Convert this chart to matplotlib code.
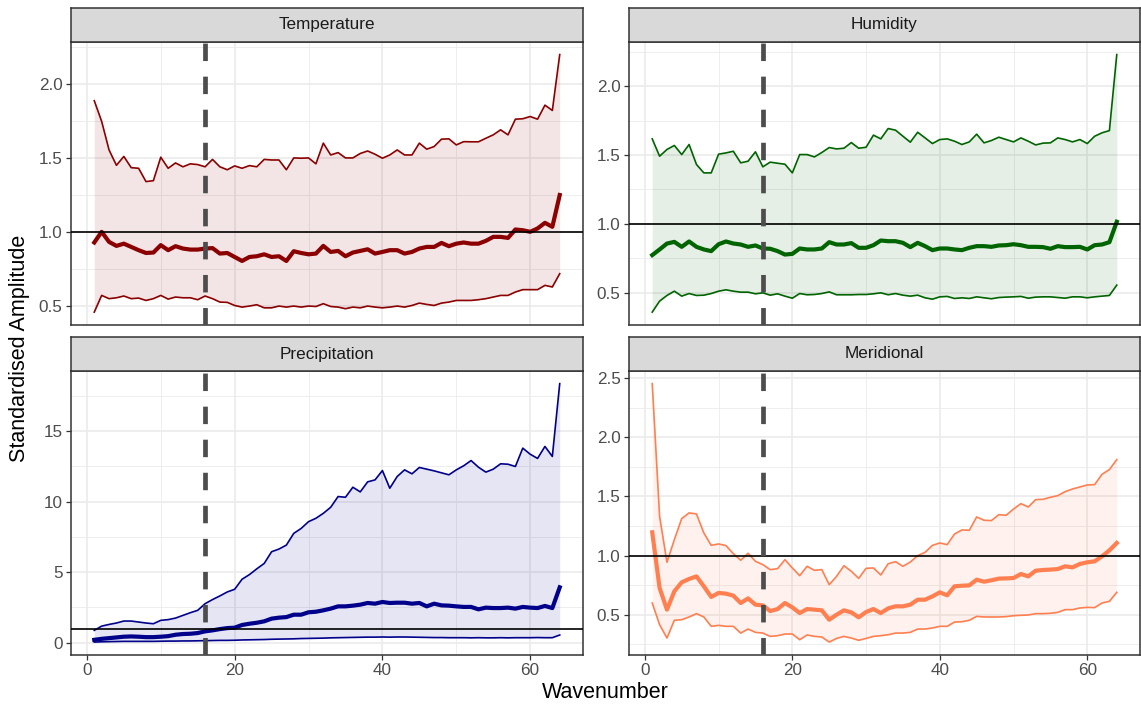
import numpy as np
import matplotlib.pyplot as plt
from matplotlib.ticker import MultipleLocator, FormatStrFormatter

plt.rcParams['font.family'] = ['Liberation Sans', 'DejaVu Sans']

# Wavenumbers 1..64
wavenumber = np.arange(1, 65)

# Temperature: upper band, median, lower band
temp_upper = [1.887, 1.747, 1.554, 1.45, 1.51, 1.434, 1.43, 1.34, 1.346, 1.505,
              1.43, 1.466, 1.44, 1.46, 1.455, 1.44, 1.49, 1.44, 1.42, 1.446,
              1.43, 1.448, 1.44, 1.49, 1.486, 1.486, 1.42, 1.50, 1.498, 1.50,
              1.46, 1.60, 1.52, 1.536, 1.50, 1.50, 1.53, 1.547, 1.525, 1.498,
              1.52, 1.554, 1.52, 1.52, 1.60, 1.559, 1.577, 1.627, 1.629, 1.588,
              1.61, 1.609, 1.609, 1.633, 1.656, 1.69, 1.656, 1.762, 1.765, 1.78,
              1.762, 1.857, 1.821, 2.199]
temp_median = [0.928, 1.0, 0.932, 0.905, 0.92, 0.898, 0.876, 0.857, 0.86, 0.91,
               0.876, 0.903, 0.887, 0.88, 0.88, 0.887, 0.89, 0.853, 0.857, 0.83,
               0.803, 0.83, 0.835, 0.848, 0.83, 0.835, 0.803, 0.869, 0.857, 0.848,
               0.853, 0.905, 0.864, 0.871, 0.835, 0.86, 0.871, 0.882, 0.853, 0.864,
               0.876, 0.876, 0.853, 0.864, 0.887, 0.898, 0.898, 0.925, 0.903, 0.92,
               0.928, 0.92, 0.92, 0.939, 0.966, 0.966, 0.959, 1.016, 1.011, 1.0,
               1.023, 1.061, 1.034, 1.249]
temp_lower = [0.457, 0.57, 0.548, 0.554, 0.566, 0.548, 0.552, 0.536, 0.548, 0.57,
              0.545, 0.559, 0.554, 0.554, 0.541, 0.566, 0.548, 0.525, 0.523, 0.502,
              0.491, 0.498, 0.507, 0.486, 0.486, 0.498, 0.491, 0.498, 0.491, 0.498,
              0.495, 0.514, 0.495, 0.491, 0.48, 0.491, 0.486, 0.498, 0.491, 0.486,
              0.491, 0.498, 0.491, 0.502, 0.518, 0.509, 0.502, 0.518, 0.525, 0.536,
              0.536, 0.536, 0.541, 0.548, 0.559, 0.57, 0.57, 0.593, 0.609, 0.609,
              0.609, 0.638, 0.627, 0.717]

# Humidity
hum_upper = [1.617, 1.491, 1.54, 1.569, 1.503, 1.576, 1.431, 1.37, 1.37, 1.506,
             1.515, 1.527, 1.443, 1.455, 1.523, 1.414, 1.448, 1.44, 1.433, 1.37,
             1.503, 1.503, 1.486, 1.518, 1.554, 1.544, 1.549, 1.59, 1.549, 1.556,
             1.644, 1.617, 1.692, 1.68, 1.636, 1.593, 1.665, 1.624, 1.583, 1.612,
             1.617, 1.60, 1.576, 1.595, 1.651, 1.588, 1.605, 1.629, 1.612, 1.595,
             1.624, 1.60, 1.573, 1.586, 1.588, 1.624, 1.612, 1.595, 1.612, 1.583,
             1.636, 1.661, 1.677, 2.229]
hum_median = [0.773, 0.814, 0.857, 0.869, 0.833, 0.872, 0.833, 0.814, 0.802, 0.852,
              0.872, 0.857, 0.85, 0.833, 0.843, 0.821, 0.819, 0.802, 0.777, 0.782,
              0.821, 0.814, 0.814, 0.821, 0.867, 0.85, 0.85, 0.86, 0.826, 0.826,
              0.845, 0.879, 0.874, 0.874, 0.862, 0.831, 0.862, 0.838, 0.809, 0.821,
              0.821, 0.814, 0.809, 0.826, 0.838, 0.838, 0.833, 0.843, 0.845, 0.852,
              0.845, 0.833, 0.833, 0.831, 0.819, 0.838, 0.831, 0.831, 0.833, 0.814,
              0.845, 0.85, 0.867, 1.015]
hum_lower = [0.359, 0.439, 0.48, 0.511, 0.475, 0.494, 0.48, 0.482, 0.494, 0.511,
             0.521, 0.511, 0.504, 0.504, 0.492, 0.499, 0.482, 0.492, 0.475, 0.46,
             0.494, 0.485, 0.487, 0.494, 0.506, 0.485, 0.485, 0.485, 0.487, 0.487,
             0.492, 0.499, 0.485, 0.494, 0.482, 0.475, 0.482, 0.463, 0.453, 0.47,
             0.473, 0.458, 0.463, 0.458, 0.47, 0.463, 0.456, 0.465, 0.468, 0.47,
             0.473, 0.46, 0.468, 0.47, 0.47, 0.465, 0.46, 0.47, 0.47, 0.463,
             0.47, 0.475, 0.48, 0.555]

# Precipitation
pre_upper = [0.88, 1.18, 1.3, 1.4, 1.54, 1.54, 1.47, 1.4, 1.35, 1.59,
             1.64, 1.75, 1.94, 2.13, 2.3, 2.77, 3.06, 3.32, 3.6, 3.79,
             4.5, 4.83, 5.24, 5.62, 6.45, 6.64, 6.92, 7.75, 8.1, 8.58,
             8.82, 9.17, 9.6, 10.36, 10.31, 11.02, 10.69, 11.4, 11.54, 12.2,
             10.95, 11.78, 12.25, 11.97, 12.42, 12.3, 12.18, 12.04, 11.9, 12.25,
             12.54, 12.91, 12.44, 12.09, 12.3, 12.68, 12.65, 12.49, 13.79, 13.36,
             13.06, 13.91, 13.2, 18.36]
pre_median = [0.21, 0.28, 0.33, 0.38, 0.43, 0.45, 0.43, 0.4, 0.4, 0.43,
              0.47, 0.57, 0.62, 0.64, 0.69, 0.81, 0.88, 0.97, 1.04, 1.07,
              1.26, 1.35, 1.42, 1.52, 1.71, 1.78, 1.82, 1.99, 1.99, 2.16,
              2.2, 2.3, 2.42, 2.58, 2.58, 2.63, 2.7, 2.82, 2.77, 2.89,
              2.82, 2.84, 2.84, 2.77, 2.82, 2.58, 2.77, 2.65, 2.63, 2.58,
              2.54, 2.54, 2.37, 2.49, 2.46, 2.46, 2.49, 2.42, 2.54, 2.49,
              2.46, 2.61, 2.46, 3.93]
pre_lower = [0.05, 0.07, 0.08, 0.09, 0.1, 0.1, 0.1, 0.1, 0.1, 0.11,
             0.12, 0.12, 0.13, 0.13, 0.14, 0.15, 0.16, 0.17, 0.17, 0.18,
             0.2, 0.21, 0.22, 0.23, 0.25, 0.26, 0.27, 0.28, 0.3, 0.31,
             0.32, 0.33, 0.35, 0.36, 0.37, 0.38, 0.39, 0.4, 0.4, 0.41,
             0.4, 0.41, 0.41, 0.4, 0.39, 0.38, 0.37, 0.37, 0.36, 0.36,
             0.36, 0.35, 0.36, 0.35, 0.35, 0.36, 0.35, 0.36, 0.36, 0.36,
             0.37, 0.36, 0.36, 0.55]

# Meridional wind
mer_upper = [2.453, 1.332, 0.944, 1.135, 1.313, 1.361, 1.352, 1.192, 1.087, 1.099,
             1.085, 1.017, 0.961, 1.02, 0.952, 0.924, 0.882, 0.89, 0.966, 0.896,
             0.831, 0.91, 0.876, 0.882, 0.755, 0.825, 0.915, 0.868, 0.808, 0.893,
             0.896, 0.837, 0.932, 0.949, 0.91, 0.946, 1.0, 1.028, 1.087, 1.107,
             1.093, 1.183, 1.217, 1.214, 1.327, 1.299, 1.296, 1.346, 1.341, 1.394,
             1.439, 1.411, 1.473, 1.476, 1.493, 1.507, 1.541, 1.563, 1.58, 1.597,
             1.6, 1.687, 1.727, 1.811]
mer_median = [1.197, 0.727, 0.544, 0.699, 0.775, 0.803, 0.825, 0.741, 0.651, 0.685,
              0.679, 0.662, 0.6, 0.639, 0.586, 0.58, 0.532, 0.549, 0.6, 0.563,
              0.515, 0.549, 0.544, 0.538, 0.459, 0.501, 0.538, 0.521, 0.479, 0.524,
              0.549, 0.515, 0.555, 0.572, 0.572, 0.586, 0.628, 0.628, 0.656, 0.69,
              0.665, 0.741, 0.746, 0.749, 0.797, 0.78, 0.792, 0.806, 0.808, 0.811,
              0.845, 0.825, 0.873, 0.879, 0.882, 0.887, 0.91, 0.901, 0.93, 0.944,
              0.952, 0.994, 1.045, 1.107]
mer_lower = [0.6, 0.417, 0.304, 0.454, 0.459, 0.482, 0.51, 0.482, 0.403, 0.411,
             0.403, 0.403, 0.346, 0.38, 0.352, 0.346, 0.318, 0.324, 0.338, 0.338,
             0.29, 0.33, 0.318, 0.313, 0.27, 0.301, 0.318, 0.304, 0.285, 0.301,
             0.318, 0.324, 0.332, 0.346, 0.346, 0.352, 0.38, 0.38, 0.389, 0.403,
             0.403, 0.439, 0.442, 0.454, 0.487, 0.482, 0.482, 0.482, 0.485, 0.493,
             0.496, 0.499, 0.51, 0.51, 0.513, 0.521, 0.544, 0.544, 0.558, 0.563,
             0.561, 0.6, 0.614, 0.69]

CUTOFF = 16  # truncation wavenumber

panels = [
    ('Temperature', '#8B0000', temp_upper, temp_median, temp_lower, 0.5, '%.1f'),
    ('Humidity', '#006400', hum_upper, hum_median, hum_lower, 0.5, '%.1f'),
    ('Precipitation', '#00008B', pre_upper, pre_median, pre_lower, 5, '%d'),
    ('Meridional', '#FF7F50', mer_upper, mer_median, mer_lower, 0.5, '%.1f'),
]

W, H = 1141, 706
fig = plt.figure(figsize=(W / 100, H / 100), dpi=100)

# panel boxes in pixels: (left, right) and (top, bottom, strip top)
cols = [(71, 583), (629, 1140)]
rows = [(41.7, 325, 8), (370.7, 655, 337.3)]

for k, (name, color, upper, median, lower, step, fmt) in enumerate(panels):
    left, right = cols[k % 2]
    top, bottom, strip_top = rows[k // 2]
    ax = fig.add_axes([left / W, 1 - bottom / H, (right - left) / W, (bottom - top) / H])
    sax = fig.add_axes([left / W, 1 - top / H, (right - left) / W, (top - strip_top) / H])

    ax.fill_between(wavenumber, lower, upper, color=color, alpha=0.1, linewidth=0, zorder=2)
    ax.plot(wavenumber, upper, color=color, lw=1.2, zorder=3)
    ax.plot(wavenumber, lower, color=color, lw=1.2, zorder=3)
    ax.plot(wavenumber, median, color=color, lw=3.0, zorder=3)
    ax.axhline(1, color='black', lw=1.2, zorder=4)
    vl = ax.axvline(CUTOFF, color='#4D4D4D', lw=3.4, zorder=5)
    vl.set_dashes((3.7, 3.3))

    ax.margins(x=0.05, y=0.05)
    ax.xaxis.set_major_locator(MultipleLocator(20))
    ax.xaxis.set_minor_locator(MultipleLocator(10))
    ax.yaxis.set_major_locator(MultipleLocator(step))
    ax.yaxis.set_minor_locator(MultipleLocator(step / 2))
    ax.yaxis.set_major_formatter(FormatStrFormatter(fmt))
    ax.grid(which='major', color='#EBEBEB', lw=1.2, zorder=0)
    ax.grid(which='minor', color='#EBEBEB', lw=0.6, zorder=0)
    ax.set_axisbelow(True)
    ax.tick_params(which='major', length=3.6, width=0.9, color='#333333',
                   labelcolor='#4D4D4D', labelsize=12.3, pad=2.5)
    ax.tick_params(which='minor', length=0)
    if k < 2:
        ax.tick_params(axis='x', which='both', bottom=False, labelbottom=False)
    for sp in ax.spines.values():
        sp.set_color('#333333')
        sp.set_linewidth(1.1)

    sax.set_facecolor('#D9D9D9')
    sax.set_xticks([])
    sax.set_yticks([])
    for sp in sax.spines.values():
        sp.set_color('#333333')
        sp.set_linewidth(1.1)
    sax.text(0.5, 0.5, name, ha='center', va='center', fontsize=12.3,
             color='#1A1A1A', transform=sax.transAxes)

fig.text(20 / W, 1 - 348 / H, 'Standardised Amplitude', rotation=90,
         ha='center', va='center', fontsize=15.5, color='black')
fig.text(605 / W, 1 - 692 / H, 'Wavenumber', ha='center', va='center',
         fontsize=15.5, color='black')

fig.savefig('out.png', dpi=100)
